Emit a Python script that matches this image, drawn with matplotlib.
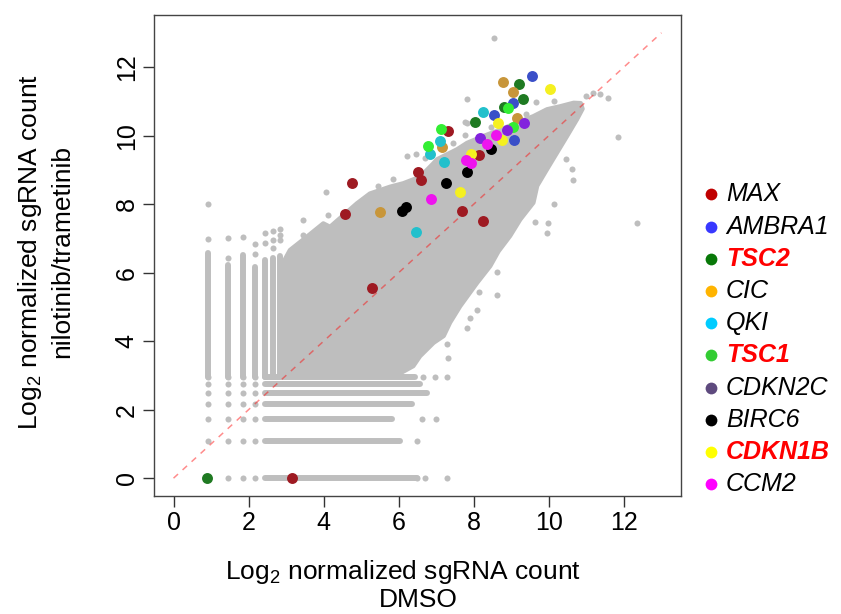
import matplotlib
matplotlib.use("Agg")
import matplotlib.pyplot as plt
from matplotlib.patches import Polygon

# ---- data (log2 normalized sgRNA counts) ----
# envelope of the dense grey cloud
cloud_x = [2.97, 6.04, 6.39, 6.57, 6.93, 7.20, 7.37, 7.64, 8.09, 8.44, 8.66, 8.97,
           9.24, 9.59, 9.69, 9.95, 10.22, 10.49, 10.75, 10.90, 10.85, 10.66, 10.31,
           9.95, 9.59, 9.15, 8.71, 8.26, 7.82, 7.55, 7.02, 6.92, 6.57, 6.12, 5.77,
           5.23, 4.88, 4.17, 3.99, 3.55, 3.10, 2.97]
cloud_y = [2.96, 3.06, 3.27, 3.56, 3.95, 4.15, 4.54, 5.02, 5.70, 6.19, 6.62, 7.07,
           7.55, 8.04, 8.53, 9.01, 9.50, 9.99, 10.47, 10.78, 10.95, 10.96, 10.86,
           10.77, 10.57, 10.38, 10.18, 9.99, 9.79, 9.60, 9.31, 9.19, 8.80, 8.61, 8.51,
           8.31, 8.02, 7.34, 7.44, 7.05, 6.66, 6.40]

# low DMSO counts: discrete columns (x, continuous top)
col_x = [0.91, 1.46, 1.84, 2.17, 2.44, 2.64, 2.84]
col_top = [6.56, 6.22, 6.51, 6.17, 6.37, 6.42, 6.50]
col_bottom = 2.96
# low treated counts: discrete rows (y, continuous right end)
row_y = [0.0, 1.09, 1.72, 2.16, 2.48, 2.74, 2.96]
row_end = [6.48, 6.03, 5.81, 6.35, 6.74, 6.57, 6.43]
row_start = 2.44
grid_col_x = [0.91, 1.46, 1.84, 2.17]

# isolated grey points
out_x = [0.91, 0.91, 1.46, 1.46, 1.84, 2.17, 2.17, 2.44, 2.44, 2.64, 2.64, 2.64,
         2.84, 2.84, 2.84, 3.46, 4.06, 4.12, 5.86, 6.23, 6.46, 8.54, 7.81, 9.66,
         10.14, 11.85, 12.34, 10.14, 9.99, 9.63, 10.62, 10.65, 10.46, 9.96, 8.61,
         8.63, 8.14, 8.08, 7.90, 7.81, 7.28, 7.32, 10.99, 11.17, 11.36, 11.57, 7.76,
         7.77, 7.81, 6.48, 6.70, 7.28, 6.48, 6.61, 6.99, 6.64, 6.97, 7.28,
         3.44, 5.45, 6.70, 7.45, 8.45, 9.40]
out_y = [6.97, 8.00, 6.44, 7.00, 7.03, 6.85, 6.54, 7.15, 6.86, 7.22, 6.95, 6.71,
         7.26, 7.10, 6.95, 7.54, 8.36, 7.68, 8.72, 9.40, 9.45, 12.84, 11.06, 10.99,
         11.02, 9.97, 7.44, 7.99, 7.46, 7.47, 9.02, 8.70, 9.31, 7.15, 6.03,
         5.35, 5.44, 4.91, 4.67, 4.38, 3.91, 3.50, 11.16, 11.24, 11.21, 11.10, 10.41,
         10.02, 10.38, 0.0, 0.0, 0.0, 1.09, 1.72, 1.72, 2.96, 2.96, 2.96,
         7.10, 8.52, 9.35, 9.78, 10.25, 10.62]

# highlighted genes
genes = ["MAX", "AMBRA1", "TSC2", "CIC", "QKI", "TSC1", "CDKN2C", "BIRC6", "CDKN1B", "CCM2"]
hit_x = {
    "MAX": [7.32, 8.14, 6.50, 6.58, 4.76, 4.57, 7.69, 8.25, 5.30, 3.15],
    "AMBRA1": [9.54, 9.05, 8.54, 9.08],
    "TSC2": [9.20, 9.30, 8.80, 8.03, 0.90],
    "CIC": [8.77, 9.05, 9.14, 7.14, 5.50],
    "QKI": [8.25, 7.10, 6.83, 7.21, 6.46],
    "TSC1": [8.92, 9.05, 7.12, 6.79],
    "CDKN2C": [9.34, 8.88, 8.16],
    "BIRC6": [8.46, 7.81, 7.26, 6.08, 6.19],
    "CDKN1B": [10.03, 8.65, 8.76, 7.92, 7.63],
    "CCM2": [8.59, 8.34, 7.79, 7.93, 6.86],
}
hit_y = {
    "MAX": [10.13, 9.43, 8.93, 8.70, 8.61, 7.70, 7.80, 7.51, 5.56, 0.0],
    "AMBRA1": [11.75, 10.96, 10.60, 9.87],
    "TSC2": [11.51, 11.07, 10.83, 10.41, 0.0],
    "CIC": [11.56, 11.27, 10.50, 9.66, 7.76],
    "QKI": [10.70, 9.85, 9.45, 9.24, 7.19],
    "TSC1": [10.82, 10.26, 10.18, 9.70],
    "CDKN2C": [10.38, 10.16, 9.92],
    "BIRC6": [9.60, 8.93, 8.63, 7.80, 7.91],
    "CDKN1B": [11.35, 10.38, 9.87, 9.45, 8.34],
    "CCM2": [10.01, 9.75, 9.29, 9.19, 8.15],
}
point_colors = ["#9e1a22", "#3a4fc8", "#1f7a22", "#c8963a", "#22c0cc",
                "#33ee33", "#8222dd", "#000000", "#f5f020", "#ee14ee"]
legend_colors = ["#c00000", "#3838ff", "#087808", "#ffb400", "#00ccff",
                 "#33cc33", "#5e4a7e", "#000000", "#ffff00", "#ff00ff"]
red_genes = ["TSC2", "TSC1", "CDKN1B"]

GREY = "#bebebe"
SANS = ["Liberation Sans", "DejaVu Sans"]
plt.rcParams["mathtext.fontset"] = "custom"
plt.rcParams["mathtext.rm"] = "Liberation Sans"
plt.rcParams["mathtext.default"] = "rm"

fig = plt.figure(figsize=(8.41, 6.14), dpi=100)
ax = fig.add_axes([154 / 841, 1 - 496 / 614, 527 / 841, 481 / 614])

# grey cloud
ax.add_patch(Polygon(list(zip(cloud_x, cloud_y)), closed=True, facecolor=GREY,
                     edgecolor=GREY, lw=3, joinstyle="round", zorder=1))
for x, top in zip(col_x, col_top):
    ax.plot([x, x], [col_bottom, top], color=GREY, lw=4.3,
            solid_capstyle="round", zorder=1)
for y, end in zip(row_y, row_end):
    ax.plot([row_start, end], [y, y], color=GREY, lw=4.3,
            solid_capstyle="round", zorder=1)
for x in grid_col_x:
    ax.scatter([x] * len(row_y), row_y, s=19, color=GREY, lw=0, zorder=1)
ax.scatter(out_x, out_y, s=19, color=GREY, lw=0, zorder=1)

# identity line
ax.plot([0, 13], [0, 13], color="red", alpha=0.45, lw=1.1,
        linestyle=(0, (4, 4)), zorder=3)

for g, c in zip(genes, point_colors):
    ax.scatter(hit_x[g], hit_y[g], s=62, color=c, lw=0, zorder=4)

ax.set_xlim(-0.52, 13.52)
ax.set_ylim(-0.52, 13.52)
ticks = [0, 2, 4, 6, 8, 10, 12]
ax.set_xticks(ticks)
ax.set_yticks(ticks)
ax.set_xticklabels([str(t) for t in ticks], family=SANS, fontsize=18)
ax.set_yticklabels([str(t) for t in ticks], family=SANS, fontsize=18,
                   rotation=90, va="center")
ax.tick_params(length=8, width=1, color="#333333", pad=3)
for sp in ax.spines.values():
    sp.set_color("#444444")
    sp.set_linewidth(1)

# axis titles
fig.text(403 / 841, 1 - 572 / 614, "Log$_2$ normalized sgRNA count",
         family=SANS, fontsize=19, ha="center", va="center")
fig.text(418 / 841, 1 - 600 / 614, "DMSO",
         family=SANS, fontsize=19, ha="center", va="center")
fig.text(30 / 841, 1 - 252 / 614, "Log$_2$ normalized sgRNA count",
         family=SANS, fontsize=19, ha="center", va="center", rotation=90)
fig.text(62 / 841, 1 - 252 / 614, "nilotinib/trametinib",
         family=SANS, fontsize=19, ha="center", va="center", rotation=90)

# legend drawn in pixel space on the right
lax = fig.add_axes([0, 0, 1, 1], facecolor="none")
lax.set_xlim(0, 841)
lax.set_ylim(614, 0)
lax.axis("off")
for i, (g, c) in enumerate(zip(genes, legend_colors)):
    yy = 194.4 + i * 32.2
    lax.scatter([711], [yy], s=72, color=c, lw=0)
    red = g in red_genes
    lax.text(726, yy, g, fontsize=18, style="italic", family=SANS,
             weight="bold" if red else "normal",
             color="#ff0000" if red else "black", va="center", ha="left")

fig.savefig("out.png", dpi=100)
